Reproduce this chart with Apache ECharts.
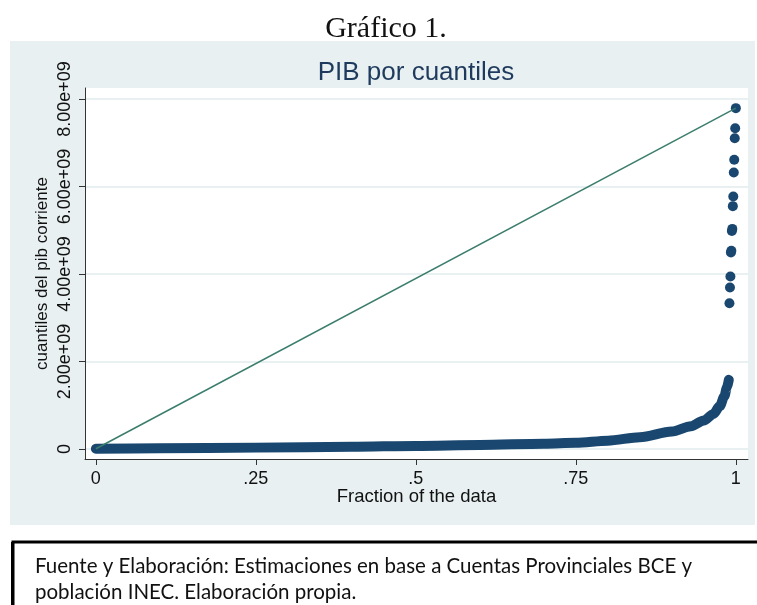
<!DOCTYPE html>
<html>
<head>
<meta charset="utf-8">
<script src="https://cdn.jsdelivr.net/npm/echarts@6/dist/echarts.min.js"></script>
<style>
  html, body { margin: 0; padding: 0; background: #fff; }
  #chart { width: 757px; height: 605px; }
</style>
</head>
<body>
<div id="chart"></div>
<script>
// cuantiles del PIB: la banda densa
var bandFrac = [0, 0.1, 0.25, 0.4, 0.5, 0.6, 0.7, 0.75, 0.8, 0.85, 0.9, 0.93, 0.95, 0.965, 0.975, 0.982, 0.986, 0.989];
var bandPib = [0.005e9, 0.015e9, 0.03e9, 0.05e9, 0.07e9, 0.09e9, 0.12e9, 0.14e9, 0.19e9, 0.27e9, 0.40e9, 0.52e9, 0.65e9, 0.80e9, 0.98e9, 1.2e9, 1.4e9, 1.58e9];
// puntos aislados de la cola superior
var topFrac = [0.9900, 0.9908, 0.9915, 0.9923, 0.9930, 0.9938, 0.9945, 0.9953, 0.9960, 0.9968, 0.9975, 0.9983, 0.9990, 1.0];
var topPib = [3.33e9, 3.69e9, 3.94e9, 4.49e9, 4.53e9, 4.98e9, 5.03e9, 5.55e9, 5.77e9, 6.32e9, 6.61e9, 7.10e9, 7.33e9, 7.79e9];
// ticks
var xTicks = [0, 0.25, 0.5, 0.75, 1];
var xTickLabels = ['0', '.25', '.5', '.75', '1'];
var yTicks = [0, 2e9, 4e9, 6e9, 8e9];
var yTickLabels = ['0', '2.00e+09', '4.00e+09', '6.00e+09', '8.00e+09'];

var navy = '#1a476f';
var green = '#3b7d6c';

var myChart = echarts.init(document.getElementById('chart'));

var band = bandFrac.map(function (f, i) { return [f, bandPib[i]]; });
var tail = topFrac.map(function (f, i) { return [f, topPib[i]]; });
var refLine = [[bandFrac[0], bandPib[0]], [topFrac[topFrac.length - 1], topPib[topPib.length - 1]]];

myChart.setOption({
  animation: false,
  backgroundColor: '#fff',
  graphic: [
    { type: 'rect', z: -10, shape: { x: 10, y: 41, width: 745, height: 484 }, style: { fill: '#e8f0f2' } },
    { type: 'text', z: 10, style: { text: 'Gráfico 1.', x: 386, y: 29, textAlign: 'center', textVerticalAlign: 'middle', font: '30px "Liberation Serif"', fill: '#111' } },
    { type: 'text', z: 10, style: { text: 'PIB por cuantiles', x: 416, y: 73, textAlign: 'center', textVerticalAlign: 'middle', font: '26px "Liberation Sans"', fill: '#1e3a5c' } },
    { type: 'rect', z: 10, shape: { x: 13, y: 542, width: 760, height: 80 }, style: { fill: 'none', stroke: '#000', lineWidth: 3 } },
    { type: 'rect', z: 10, shape: { x: 11, y: 542, width: 3, height: 80 }, style: { fill: '#000' } },
    { type: 'text', z: 10, style: { text: 'Fuente y Elaboración: Estimaciones en base a Cuentas Provinciales BCE y', x: 35, y: 566, textVerticalAlign: 'middle', font: '20.5px Lato', fill: '#111' } },
    { type: 'text', z: 10, style: { text: 'población INEC. Elaboración propia.', x: 35, y: 592, textVerticalAlign: 'middle', font: '20.5px Lato', fill: '#111' } }
  ],
  grid: {
    left: 85, right: 9, top: 88, bottom: 146,
    show: true, backgroundColor: '#fff', borderWidth: 0
  },
  xAxis: {
    type: 'value',
    min: -0.017, max: 1.019,
    name: 'Fraction of the data',
    nameLocation: 'middle',
    nameGap: 28,
    nameMoveOverlap: false,
    nameTextStyle: { fontFamily: 'Liberation Sans', fontSize: 18.5, color: '#111' },
    axisLine: { show: true, onZero: false, lineStyle: { color: '#333', width: 1 } },
    axisTick: { show: true, length: 6, customValues: xTicks, lineStyle: { color: '#333' } },
    axisLabel: {
      customValues: xTicks, margin: 11,
      fontFamily: 'Liberation Sans', fontSize: 18, color: '#111',
      formatter: function (v) { return xTickLabels[xTicks.indexOf(v)]; }
    },
    splitLine: { show: false }
  },
  yAxis: {
    type: 'value',
    min: -0.23e9, max: 8.25e9,
    name: 'cuantiles del pib corriente',
    nameLocation: 'middle',
    nameRotate: 90,
    nameGap: 34,
    nameMoveOverlap: false,
    nameTextStyle: { fontFamily: 'Liberation Sans', fontSize: 17, color: '#111' },
    axisLine: { show: true, onZero: false, lineStyle: { color: '#333', width: 1 } },
    axisTick: { show: true, length: 6, customValues: yTicks, lineStyle: { color: '#333' } },
    axisLabel: {
      customValues: yTicks, rotate: 90, margin: 11,
      fontFamily: 'Liberation Sans', fontSize: 18, color: '#111',
      formatter: function (v) { return yTickLabels[yTicks.indexOf(v)]; }
    },
    splitLine: { show: true, lineStyle: { color: '#e8f0f2', width: 2 } }
  },
  series: [
    {
      name: 'banda',
      type: 'line',
      data: band,
      showSymbol: false,
      smooth: 0.3,
      smoothMonotone: 'x',
      clip: false,
      lineStyle: { color: navy, width: 10, cap: 'round', join: 'round' },
      z: 2
    },
    {
      name: 'cola',
      type: 'scatter',
      data: tail,
      symbolSize: 10,
      clip: false,
      itemStyle: { color: navy, opacity: 1 },
      z: 3
    },
    {
      name: 'referencia',
      type: 'line',
      data: refLine,
      showSymbol: false,
      clip: false,
      lineStyle: { color: green, width: 1.5 },
      z: 4
    }
  ]
});
</script>
</body>
</html>
